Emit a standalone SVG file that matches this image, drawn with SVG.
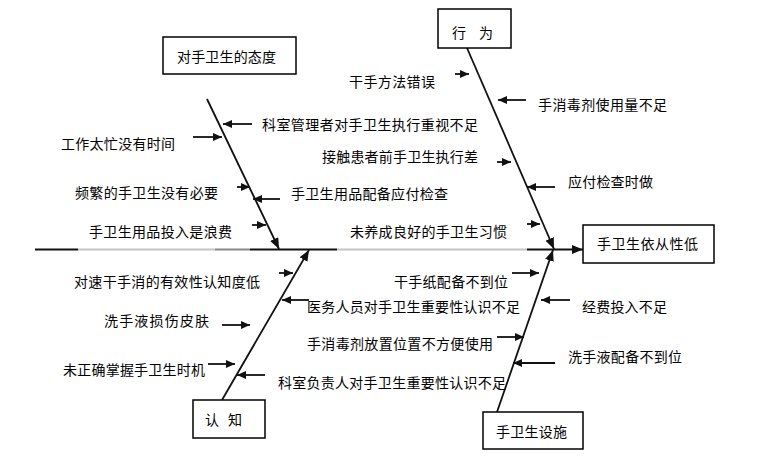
<svg xmlns="http://www.w3.org/2000/svg" width="757" height="461" viewBox="0 0 757 461">
<style>
.bg{fill:#fff}
.box{fill:#fff;stroke:#000;stroke-width:1.5}
.t{font-family:"Noto Sans CJK SC","Noto Sans",sans-serif;font-size:14px;fill:#000}
.br{stroke:#111;stroke-width:1.8;fill:none}
.ar{stroke:#111;stroke-width:1.8;fill:none}
.sp{stroke:#111;stroke-width:2;fill:none}
</style>
<defs>
<marker id="ah" markerUnits="userSpaceOnUse" markerWidth="9" markerHeight="8" refX="9" refY="4" orient="auto">
<path d="M0,0 L9,4 L0,8 z" fill="#111"/>
</marker>
<marker id="ahb" markerUnits="userSpaceOnUse" markerWidth="11" markerHeight="9" refX="11" refY="4.5" orient="auto">
<path d="M0,0 L11,4.5 L0,9 z" fill="#111"/>
</marker>
</defs>
<rect class="bg" width="757" height="461"/>
<g id="connectors">
<line class="sp" x1="35" y1="249.5" x2="78" y2="249.5"/>
<line x1="78" y1="249.5" x2="215" y2="249.5" stroke="#c4c4c4" stroke-width="2"/>
<line x1="215" y1="249.5" x2="250" y2="249.5" stroke="#888" stroke-width="2"/>
<line class="sp" x1="250" y1="249.5" x2="337" y2="249.5"/>
<line x1="337" y1="249.5" x2="527" y2="249.5" stroke="#c4c4c4" stroke-width="2"/>
<line class="sp" x1="527" y1="249.5" x2="583" y2="249.5" marker-end="url(#ahb)"/>
<line class="br" x1="207" y1="99" x2="279" y2="249" marker-end="url(#ahb)"/>
<line class="br" x1="467" y1="48" x2="554" y2="249" marker-end="url(#ahb)"/>
<line class="br" x1="222" y1="400" x2="309" y2="250" marker-end="url(#ahb)"/>
<line class="br" x1="497" y1="412" x2="553" y2="250" marker-end="url(#ahb)"/>
<line class="ar" x1="252" y1="124" x2="223" y2="124" marker-end="url(#ah)"/>
<line class="ar" x1="193" y1="137" x2="222" y2="137" marker-end="url(#ah)"/>
<line class="ar" x1="237" y1="187" x2="250" y2="187" marker-end="url(#ah)"/>
<line class="ar" x1="280" y1="199" x2="253" y2="199" marker-end="url(#ah)"/>
<line class="ar" x1="252" y1="225" x2="266" y2="225" marker-end="url(#ah)"/>
<line class="ar" x1="455" y1="74" x2="469" y2="74" marker-end="url(#ah)"/>
<line class="ar" x1="526" y1="100" x2="498" y2="100" marker-end="url(#ah)"/>
<line class="ar" x1="497" y1="162" x2="511" y2="162" marker-end="url(#ah)"/>
<line class="ar" x1="555" y1="187" x2="527" y2="187" marker-end="url(#ah)"/>
<line class="ar" x1="527" y1="224" x2="540" y2="224" marker-end="url(#ah)"/>
<line class="ar" x1="279" y1="273" x2="293" y2="273" marker-end="url(#ah)"/>
<line class="ar" x1="309" y1="300" x2="282" y2="300" marker-end="url(#ah)"/>
<line class="ar" x1="222" y1="325" x2="250" y2="325" marker-end="url(#ah)"/>
<line class="ar" x1="208" y1="364" x2="235" y2="364" marker-end="url(#ah)"/>
<line class="ar" x1="265" y1="375" x2="237" y2="375" marker-end="url(#ah)"/>
<line class="ar" x1="512" y1="273" x2="539" y2="273" marker-end="url(#ah)"/>
<line class="ar" x1="570" y1="300" x2="541" y2="300" marker-end="url(#ah)"/>
<line class="ar" x1="497" y1="337" x2="524" y2="337" marker-end="url(#ah)"/>
<line class="ar" x1="555" y1="363" x2="513" y2="363" marker-end="url(#ah)"/>
</g>
<g id="node-effect">
<rect class="box" x="583" y="225" width="131" height="38"/>
<text class="t" x="597" y="249" textLength="101">手卫生依从性低</text>
</g>
<g id="node-attitude">
<rect class="box" x="163" y="37" width="133" height="37"/>
<text class="t" x="177" y="62" textLength="99">对手卫生的态度</text>
</g>
<g id="node-behavior">
<rect class="box" x="438" y="9" width="73" height="39"/>
<text class="t" x="452" y="38" textLength="41">行 为</text>
</g>
<g id="node-cognition">
<rect class="box" x="193" y="400" width="72" height="38"/>
<text class="t" x="205" y="425" textLength="37">认 知</text>
</g>
<g id="node-facility">
<rect class="box" x="483" y="412" width="100" height="37"/>
<text class="t" x="496" y="437" textLength="71">手卫生设施</text>
</g>
<g id="cause-attitude">
<text class="t" x="262" y="130" textLength="216">科室管理者对手卫生执行重视不足</text>
<text class="t" x="61" y="149" textLength="114">工作太忙没有时间</text>
<text class="t" x="75" y="198" textLength="143">频繁的手卫生没有必要</text>
<text class="t" x="291" y="199" textLength="157">手卫生用品配备应付检查</text>
<text class="t" x="89" y="237" textLength="143">手卫生用品投入是浪费</text>
</g>
<g id="cause-behavior">
<text class="t" x="349" y="87" textLength="86">干手方法错误</text>
<text class="t" x="538" y="110" textLength="129">手消毒剂使用量不足</text>
<text class="t" x="322" y="162" textLength="156">接触患者前手卫生执行差</text>
<text class="t" x="568" y="187" textLength="85">应付检查时做</text>
<text class="t" x="350" y="237" textLength="157">未养成良好的手卫生习惯</text>
</g>
<g id="cause-cognition">
<text class="t" x="74" y="287" textLength="186">对速干手消的有效性认知度低</text>
<text class="t" x="307" y="312" textLength="213">医务人员对手卫生重要性认识不足</text>
<text class="t" x="104" y="326" textLength="105">洗手液损伤皮肤</text>
<text class="t" x="63" y="375" textLength="142">未正确掌握手卫生时机</text>
<text class="t" x="278" y="388" textLength="228">科室负责人对手卫生重要性认识不足</text>
</g>
<g id="cause-facility">
<text class="t" x="394" y="287" textLength="114">干手纸配备不到位</text>
<text class="t" x="582" y="312" textLength="85">经费投入不足</text>
<text class="t" x="307" y="349" textLength="186">手消毒剂放置位置不方便使用</text>
<text class="t" x="568" y="362" textLength="114">洗手液配备不到位</text>
</g>
</svg>
